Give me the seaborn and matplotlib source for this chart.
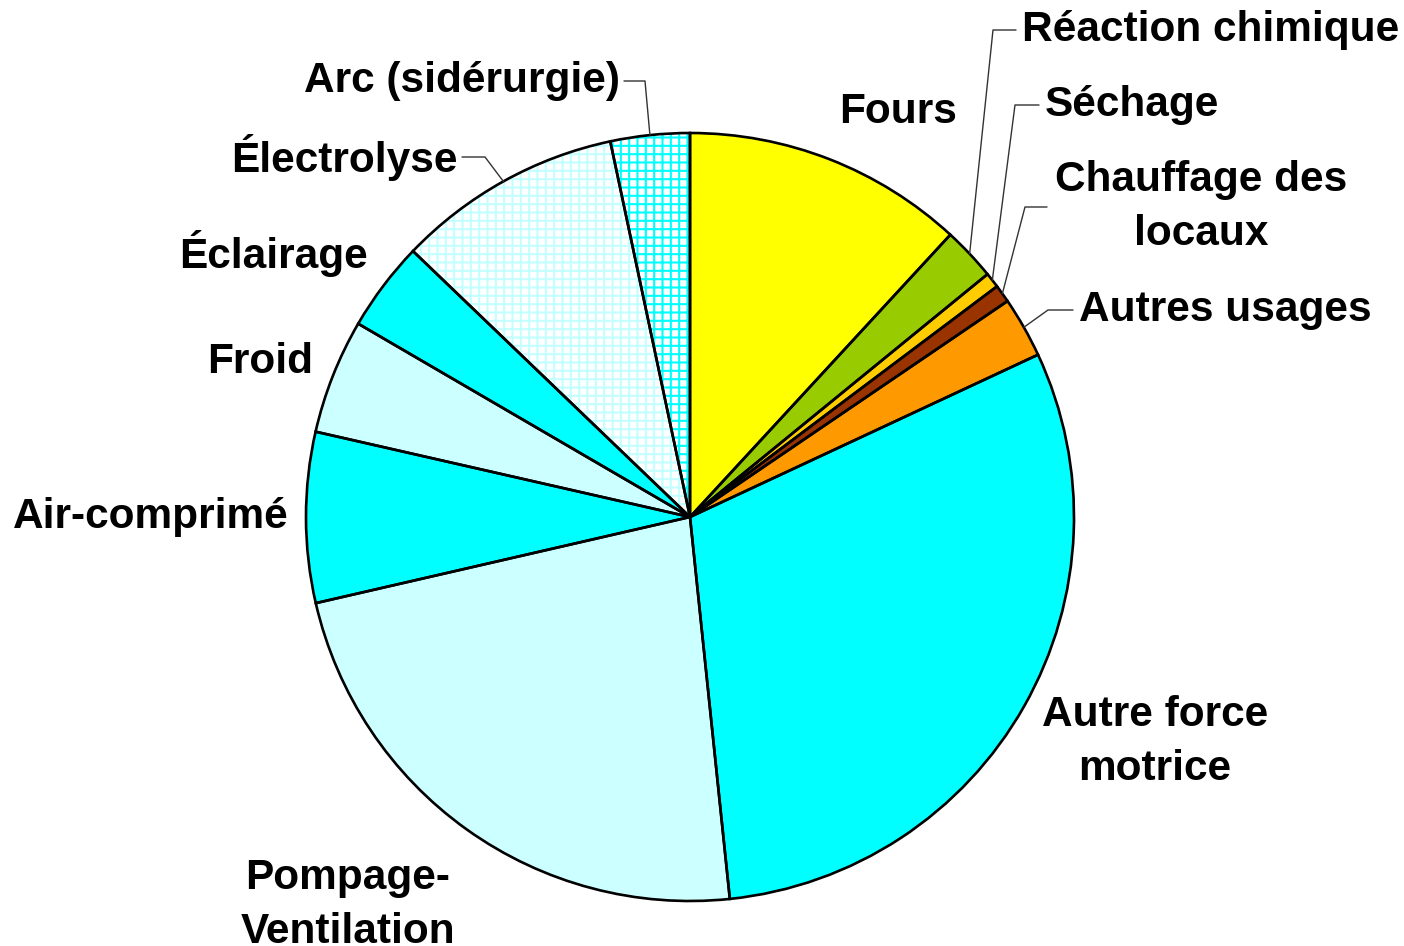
import numpy as np
import matplotlib
matplotlib.use("Agg")
import matplotlib.pyplot as plt
import seaborn as sns

# data, clockwise from 12 o'clock
labels = ["Fours", "Réaction chimique", "Séchage", "Chauffage des\nlocaux",
          "Autres usages", "Autre force\nmotrice", "Pompage-\nVentilation",
          "Air-comprimé", "Froid", "Éclairage", "Électrolyse", "Arc (sidérurgie)"]
shares = [11.86, 2.25, 0.64, 0.75, 2.56, 30.3, 23.06, 7.17, 4.83, 3.78, 9.5, 3.33]
colors = ["#FFFF00", "#99CC00", "#FFCC00", "#993300", "#FF9900", "#00FFFF",
          "#CCFFFF", "#00FFFF", "#CCFFFF", "#00FFFF", "#FFFFFF", "#FFFFFF"]
hatch_colors = {10: "#C4FFFF", 11: "#00FFFF"}

sns.set_style("white")
plt.rcParams["font.family"] = ["Liberation Sans", "DejaVu Sans"]
plt.rcParams["hatch.linewidth"] = 1.5

fig = plt.figure(figsize=(14.04, 9.46), dpi=100)
ax = fig.add_axes([0, 0, 1, 1])

pal = sns.color_palette(colors)
wedges, _ = ax.pie(shares, colors=pal, startangle=90, counterclock=False,
                   radius=1, wedgeprops=dict(linewidth=0))
for i, hc in hatch_colors.items():
    wedges[i].set_hatch("++")
    wedges[i].set_edgecolor(hc)
# black outlines on top
ax.pie(shares, colors=["none"] * len(shares), startangle=90, counterclock=False,
       radius=1, wedgeprops=dict(linewidth=1.9, edgecolor="black"))

R = 384.0
cx, cy = 690, 517
def px(x, y):
    return (x - cx) / R, (cy - y) / R

# label placement (pixel positions of the reference), alignment, leader elbow
place = [
    ((898, 112), "center", None),
    ((1022, 30), "left", (993, 30)),
    ((1045, 105), "left", (1015, 105)),
    ((1201, 207), "center", (1025, 207)),
    ((1079, 310), "left", (1048, 310)),
    ((1155, 742), "center", None),
    ((348, 905), "center", None),
    ((289, 517), "right", None),
    ((313, 362), "right", None),
    ((368, 253), "right", None),
    ((458, 157), "right", (485, 157)),
    ((620, 81), "right", (645, 81)),
]

angles = 90 - (np.cumsum(shares) - np.array(shares) / 2) / sum(shares) * 360
for i, (lab, (pos, ha, elbow)) in enumerate(zip(labels, place)):
    x, y = px(*pos)
    ax.text(x, y, lab, ha=ha, va="center", fontsize=30.5, fontweight="bold",
            linespacing=1.42, multialignment="center", color="black")
    if elbow is not None:
        a = np.deg2rad(angles[i])
        ex, ey = px(*elbow)
        if ha == "left":
            tx = x - 6 / R
        elif ha == "right":
            tx = x + 4 / R
        else:
            tx = ex + 22 / R
        ax.plot([tx, ex, np.cos(a)], [ey, ey, np.sin(a)], color="#333333", lw=1)

ax.set_xlim(-cx / R, (1404 - cx) / R)
ax.set_ylim(-(946 - cy) / R, cy / R)
ax.set_aspect("auto")
ax.axis("off")
fig.savefig("out.png", dpi=100)
